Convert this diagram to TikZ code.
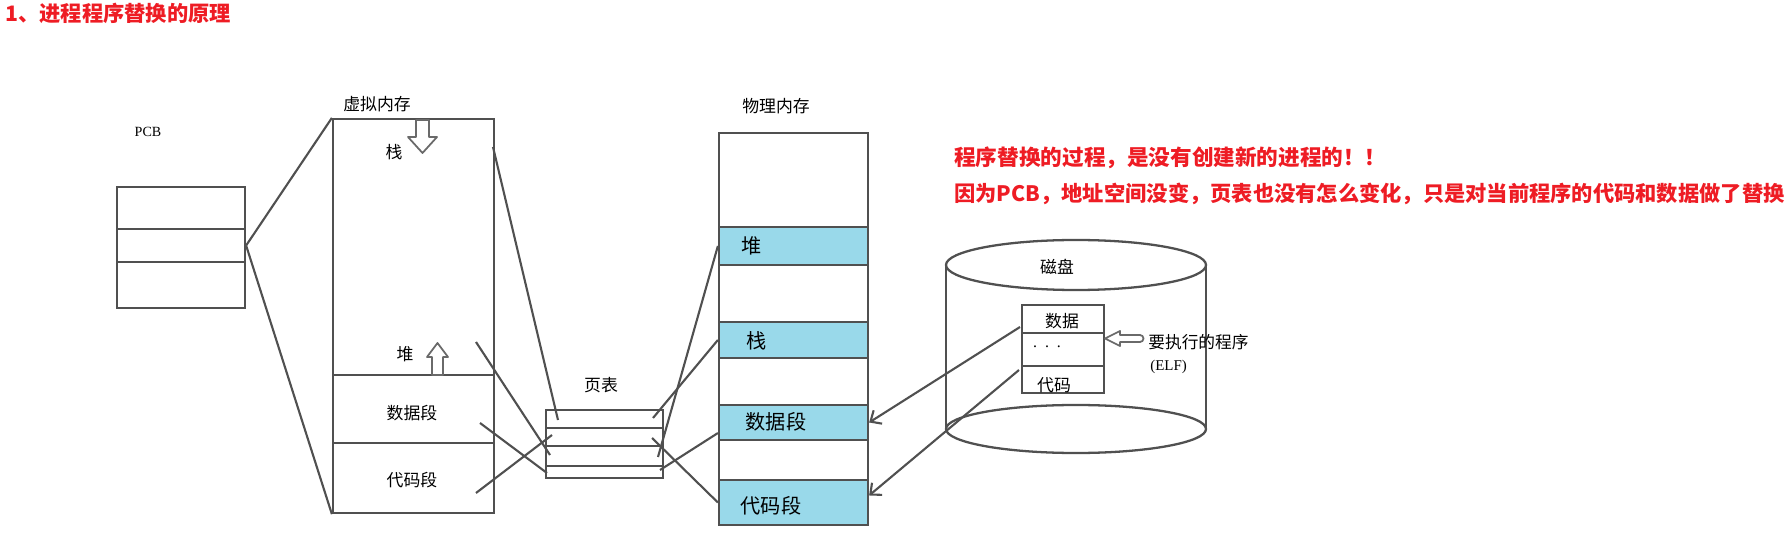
\documentclass[tikz,border=0pt]{standalone}
\usepackage{fontspec}
\setmainfont{Liberation Serif}
\newfontfamily\cjk{Noto Sans CJK SC}
\usetikzlibrary{arrows.meta}

\definecolor{alertred}{RGB}{238,28,36}
\definecolor{segblue}{RGB}{153,217,234}
\definecolor{pen}{RGB}{80,80,80}

\tikzset{
  cell/.style={draw=pen, line width=1.3pt, rectangle, inner sep=0pt, fill=white},
  blue cell/.style={cell, fill=segblue},
  link/.style={draw=pen, line width=1.2pt},
  tag/.style={font=\cjk\fontsize{9.6}{11}\selectfont, inner sep=0pt},
  ptag/.style={font=\cjk\fontsize{11.5}{13}\selectfont, inner sep=0pt},
  note/.style={font=\cjk\bfseries\fontsize{12.3}{14}\selectfont, text=alertred,
               inner sep=0pt, anchor=west},
  hollow/.style={draw=pen!85, fill=white, line width=1pt, line join=round},
}

\begin{document}
\begin{tikzpicture}[x=0.02cm, y=-0.02cm]

\useasboundingbox (0,0) rectangle (1790,543);

\def\pcbw{2.56cm}
\def\vmw{3.22cm}
\def\ptw{2.34cm}
\def\phw{2.98cm}
\def\elfw{1.64cm}

%% ── Title ───────────────────────────────────────────────────────────────────
\node[note, font=\cjk\bfseries\fontsize{12.1}{14}\selectfont] (title) at (5,13)
  {1、进程程序替换的原理};

%% ── PCB ─────────────────────────────────────────────────────────────────────
\node[inner sep=0pt, font=\fontsize{8}{9}\selectfont] (pcbname) at (148,132) {PCB};
\node[cell, minimum width=\pcbw, minimum height=0.84cm] (pcb1) at (181,208) {};
\node[cell, minimum width=\pcbw, minimum height=0.66cm] (pcb2) at (181,245.5) {};
\node[cell, minimum width=\pcbw, minimum height=0.92cm] (pcb3) at (181,285) {};

%% ── Virtual memory ──────────────────────────────────────────────────────────
\node[tag] (vmname) at (377,104) {虚拟内存};
\node[cell, minimum width=\vmw, minimum height=5.12cm] (vmstack) at (413.5,247) {};
\node[cell, minimum width=\vmw, minimum height=1.36cm] (vmdata) at (413.5,409) {};
\node[cell, minimum width=\vmw, minimum height=1.40cm] (vmcode) at (413.5,478) {};

\node[tag] (vmstacktxt) at (394,152) {栈};
\node[tag] (vmheaptxt) at (405,354) {堆};
\node[tag] (vmdatatxt) at (412,413) {数据段};
\node[tag] (vmcodetxt) at (412,480) {代码段};

% grow arrows
\draw[hollow] (416,120) -- (429,120) -- (429,137) -- (437,137) -- (422.5,153)
  -- (408,137) -- (416,137) -- cycle;
\draw[hollow] (432,375) -- (443,375) -- (443,357) -- (448,357) -- (437.5,343)
  -- (427,357) -- (432,357) -- cycle;

%% ── Page table ──────────────────────────────────────────────────────────────
\node[tag] (ptname) at (601,385) {页表};
\node[cell, minimum width=\ptw, minimum height=0.36cm] (pt1) at (604.5,419) {};
\node[cell, minimum width=\ptw, minimum height=0.36cm] (pt2) at (604.5,437) {};
\node[cell, minimum width=\ptw, minimum height=0.40cm] (pt3) at (604.5,456) {};
\node[cell, minimum width=\ptw, minimum height=0.24cm] (pt4) at (604.5,472) {};

%% ── Physical memory ─────────────────────────────────────────────────────────
\node[tag] (phname) at (776,106) {物理内存};
\node[cell, minimum width=\phw, minimum height=1.88cm] (ph0) at (793.5,180) {};
\node[blue cell, minimum width=\phw, minimum height=0.76cm] (phheap) at (793.5,246) {};
\node[cell, minimum width=\phw, minimum height=1.14cm] (ph1) at (793.5,293.5) {};
\node[blue cell, minimum width=\phw, minimum height=0.72cm] (phstack) at (793.5,340) {};
\node[cell, minimum width=\phw, minimum height=0.94cm] (ph2) at (793.5,381.5) {};
\node[blue cell, minimum width=\phw, minimum height=0.70cm] (phdata) at (793.5,422.5) {};
\node[cell, minimum width=\phw, minimum height=0.80cm] (ph3) at (793.5,460) {};
\node[blue cell, minimum width=\phw, minimum height=0.90cm] (phcode) at (793.5,502.5) {};

\node[ptag] (phheaptxt) at (752,246) {堆};
\node[ptag] (phstacktxt) at (757,341) {栈};
\node[ptag] (phdatatxt) at (776,422) {数据段};
\node[ptag] (phcodetxt) at (771,506) {代码段};

%% ── Disk ────────────────────────────────────────────────────────────────────
\draw[draw=pen, line width=1.3pt] (946,265) -- (946,429) (1206,265) -- (1206,429);
\draw[draw=pen, line width=1.3pt, fill=white] (1076,429) ellipse (130 and 24);
\draw[draw=pen, line width=1.3pt, fill=white] (1076,265) ellipse (130 and 25);
\node[tag] (diskname) at (1057,267) {磁盘};

\node[cell, minimum width=\elfw, minimum height=0.56cm] (elfdata) at (1063,319) {};
\node[cell, minimum width=\elfw, minimum height=0.66cm] (elfdots) at (1063,349.5) {};
\node[cell, minimum width=\elfw, minimum height=0.54cm] (elfcode) at (1063,379.5) {};
\node[tag] (elfdatatxt) at (1062,321) {数据};
\node[inner sep=0pt, font=\fontsize{9}{10}\selectfont] (elfdotstxt) at (1047,347) {.\ \ .\ \ .};
\node[tag] (elfcodetxt) at (1054,385) {代码};

\draw[hollow] (1105,338.5) -- (1120,331) -- (1120,335) -- (1140,335)
  arc (-90:90:3.5) -- (1120,342) -- (1120,346) -- cycle;
\node[tag, font=\cjk\fontsize{9.5}{11}\selectfont, anchor=west] (runtxt) at (1148,342)
  {要执行的程序};
\node[inner sep=0pt, anchor=west, font=\fontsize{8.5}{10}\selectfont] (elftxt) at (1150,367)
  {(ELF)};

%% ── Mapping lines ───────────────────────────────────────────────────────────
\draw[link] (pcb2.east) -- (vmstack.north west);
\draw[link] (pcb2.east) -- (vmcode.south west);

\coordinate (vsa) at (493,147);  \coordinate (pta) at (558,420);
\coordinate (vha) at (476,342);  \coordinate (ptc) at (550,455);
\coordinate (vda) at (480,423);  \coordinate (ptd) at (547,473);
\coordinate (vca) at (476,493);  \coordinate (ptb) at (552,435);
\draw[link] (vsa) -- (pta);
\draw[link] (vha) -- (ptc);
\draw[link] (vda) -- (ptd);
\draw[link] (vca) -- (ptb);

\coordinate (pto1) at (653,418);
\coordinate (pto2) at (652,438);
\coordinate (pto3) at (658,457);
\coordinate (pto4) at (660,470);
\draw[link] (pto1) -- (phstack.west);
\draw[link] (pto2) -- (phcode.west);
\draw[link] (pto3) -- (phheap.west);
\draw[link] (pto4) -- ([yshift=-6pt]phdata.west);

%% ── Loading from disk ───────────────────────────────────────────────────────
\coordinate (ldata) at (1020,327);
\coordinate (lcode) at (1019,370);
\draw[link, -{Straight Barb[length=5pt,width=9pt]}] (ldata) -- (phdata.east);
\draw[link, -{Straight Barb[length=5pt,width=9pt]}] (lcode) -- ([yshift=4pt]phcode.east);

%% ── Notes ───────────────────────────────────────────────────────────────────
\node[note] (note1) at (954,158) {程序替换的过程，是没有创建新的进程的！！};
\node[note, font=\cjk\bfseries\fontsize{12.1}{14}\selectfont] (note2) at (954,194)
  {因为PCB，地址空间没变，页表也没有怎么变化，只是对当前程序的代码和数据做了替换};

\end{tikzpicture}
\end{document}
